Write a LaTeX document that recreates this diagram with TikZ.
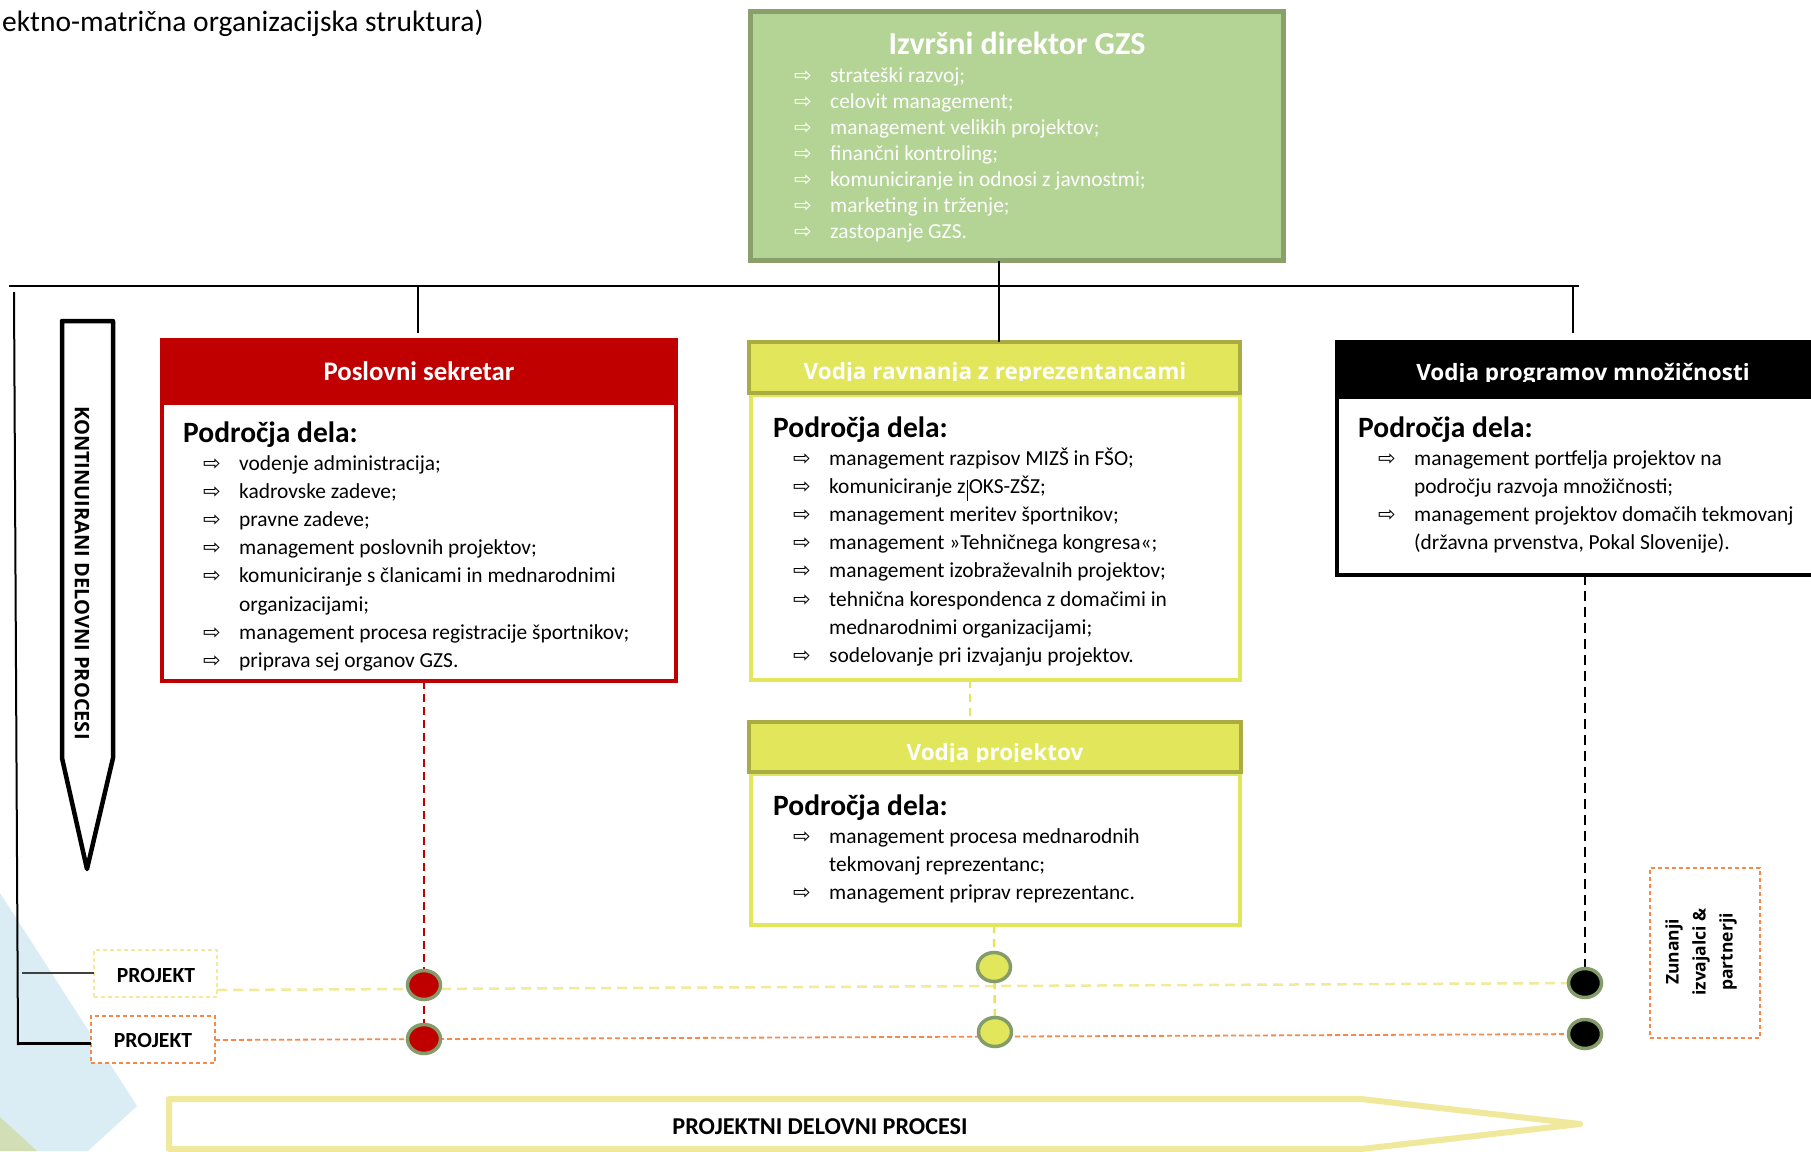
\documentclass[tikz,border=0pt]{standalone}
\usepackage{fontspec}
\setmainfont{Carlito}
\newfontfamily\osans{Open Sans}
\newfontfamily\djv{DejaVu Sans}
\usetikzlibrary{shapes.geometric}
\definecolor{gfill}{HTML}{B3D495}
\definecolor{gborder}{HTML}{89A06B}
\definecolor{rd}{HTML}{C00000}
\definecolor{yl}{HTML}{E2E65A}
\definecolor{ylborder}{HTML}{A9AB43}
\definecolor{olivec}{HTML}{849C6A}
\definecolor{lyel}{HTML}{F2EA98}
\definecolor{khaki}{HTML}{F0E89A}
\definecolor{orng}{HTML}{F5894A}
\definecolor{bgblue}{HTML}{DAEDF4}
\definecolor{bggreen}{HTML}{D2DEB5}
\newcommand\arr{\makebox[36pt][l]{\djv\fontsize{21}{21}\selectfont ⇨}}
\newcommand\itm[1]{\hbox{\arr #1}}
\newcommand\cnt[1]{\hbox{\hspace*{36pt}#1}}
\newcommand\boxnode[6]{\node[#2, inner sep=0, outer sep=0, minimum width={#5-#3}, minimum height={#6-#4}] (#1) at ({(#3+#5)/2},{(#4+#6)/2}) {};}
\tikzset{
  gbox/.style={draw=gborder, line width=5, fill=gfill},
  rhead/.style={fill=rd, draw=rd, line width=1},
  rbody/.style={draw=rd, line width=4, fill=white},
  yhead/.style={fill=yl, draw=ylborder, line width=4},
  ybody/.style={draw=yl, line width=4, fill=white},
  bhead/.style={fill=black, draw=black, line width=1},
  bbody/.style={draw=black, line width=4, fill=white},
  pjbox/.style={dashed, dash pattern=on 4pt off 3pt, line width=1.5, fill=white},
  conn/.style={draw=black, line width=2},
  lst/.style={anchor=base west, inner sep=0, font=\fontsize{21.4}{28.2}\selectfont},
  pod/.style={anchor=base west, inner sep=0, font=\bfseries\fontsize{29.5}{29.5}\selectfont},
  hdtxt/.style={anchor=base, inner sep=0, text=white, font=\osans\bfseries\fontsize{22.5}{22.5}\selectfont},
  dot/.style={ellipse, inner sep=0, minimum width=33, minimum height=29, draw=olivec, line width=3.5},
  pjtxt/.style={anchor=base, inner sep=0, font=\bfseries\fontsize{21.6}{21.6}\selectfont},
}
\begin{document}
\begin{tikzpicture}[x=1pt,y=-1pt]
\useasboundingbox (0,0) rectangle (1811,1151);
\fill[white] (0,0) rectangle (1811,1151);
% background shapes
\fill[bgblue] (0,893) -- (137,1106) -- (88,1151) -- (0,1151) -- cycle;
\fill[bggreen] (0,1117) -- (37,1151) -- (0,1151) -- cycle;
% title fragment
\node[anchor=base west, inner sep=0, font=\fontsize{29.5}{29.5}\selectfont] (ttl) at (2,31) {ektno-matrična organizacijska struktura)};
% boxes
\boxnode{dir}{gbox}{750.5}{11.5}{1283.5}{260.5}
\boxnode{ps_head}{rhead}{160.5}{338.5}{677.5}{403}
\boxnode{ps_body}{rbody}{162}{403}{676}{681}
\boxnode{vr_body}{ybody}{751}{395}{1240}{680}
\boxnode{vr_head}{yhead}{749}{342}{1240}{393}
\boxnode{vj_body}{ybody}{751}{774}{1240}{925}
\boxnode{vj_head}{yhead}{749}{722}{1241}{772}
\boxnode{vp_head}{bhead}{1335.5}{340.5}{1830}{397}
\boxnode{vp_body}{bbody}{1337}{397}{1830}{575}
% helper coordinates
\coordinate (hl_l) at (9,286);
\coordinate (hl_r) at (1579,286);
\coordinate (cx999) at (999,0);
\coordinate (cx970) at (970,0);
\coordinate (ps_top) at (418,333);
\coordinate (vp_top) at (1573,333);
\coordinate (lv_t) at (14,292);
\coordinate (lv_b) at (18,1045);
\coordinate (br1) at (22,973);
\coordinate (br2) at (18,1043);
\coordinate (yl_s) at (217,990);
\coordinate (or_s) at (215,1040);
% connectors (org chart)
\draw[conn] (hl_l) -- (hl_r);
\draw[conn] (dir.south -| cx999) -- (vr_head.north -| cx999);
\draw[conn] (hl_l -| ps_top) -- (ps_top);
\draw[conn] (hl_r -| vp_top) -- (vp_top);
\draw[conn] (lv_t) -- (lv_b);
% PROJEKT boxes
\boxnode{pj1}{pjbox, draw=lyel}{94}{950}{217}{997}
\boxnode{pj2}{pjbox, draw=orng}{91}{1016}{215}{1063}
\node[pjtxt] (pj1t) at (156,982) {PROJEKT};
\node[pjtxt] (pj2t) at (153,1047) {PROJEKT};
\draw[draw=black!75, line width=1.5] (br1) -- (br1 -| pj1.west);
\draw[draw=black, line width=3] (br2) -- (br2 -| pj2.west);
% circle positions
\coordinate (cr1) at (424,985);
\coordinate (cr2) at (424,1039);
\coordinate (cy1) at (994,967);
\coordinate (cy2) at (995,1032);
\coordinate (cb1) at (1585,983);
\coordinate (cb2) at (1585,1034);
% dashed lines
\draw[draw=lyel, line width=2.5, dash pattern=on 10pt off 6pt] (yl_s) -- (cb1);
\draw[draw=orng, line width=1.8, dash pattern=on 5pt off 3pt] (or_s) -- (cb2);
\draw[draw=rd, line width=2, dash pattern=on 8pt off 5pt] (ps_body.south -| cr1) -- (cr2);
\draw[draw=yl, line width=2.5, dash pattern=on 8pt off 6pt] (vj_body.south -| cy1) -- (cy2);
\draw[draw=yl, line width=2.5, dash pattern=on 8pt off 6pt] (vr_body.south -| cx970) -- (vj_head.north -| cx970);
\draw[draw=black, line width=2, dash pattern=on 10pt off 6pt] (vp_body.south -| cb1) -- (cb1);
\node[dot, fill=rd] (c_r1) at (cr1) {};
\node[dot, fill=rd] (c_r2) at (cr2) {};
\node[dot, fill=yl] (c_y1) at (cy1) {};
\node[dot, fill=yl] (c_y2) at (cy2) {};
\node[dot, fill=black] (c_b1) at (cb1) {};
\node[dot, fill=black] (c_b2) at (cb2) {};
% Zunanji box
\boxnode{zun}{pjbox, draw=orng}{1650}{868}{1760}{1038}
\node[rotate=90, align=center, inner sep=0, font=\osans\bfseries\fontsize{17.5}{27}\selectfont] (zunt) at (1701,952) {Zunanji\\izvajalci \&\\partnerji};
% left arrow
\draw[line width=4.5, line join=round, fill=white] (62,321) -- (113,321) -- (113,758) -- (87,869) -- (62,758) -- cycle;
\node[rotate=-90, inner sep=0, font=\osans\bfseries\fontsize{20}{20}\selectfont] (kont) at (82,573) {KONTINUIRANI DELOVNI PROCESI};
% bottom arrow
\draw[draw=khaki, line width=6, line join=round, fill=white] (169,1099) -- (1361,1099) -- (1580,1124) -- (1361,1149) -- (169,1149) -- cycle;
\node[anchor=base, inner sep=0, font=\bfseries\fontsize{24.2}{24.2}\selectfont] (proj) at (820,1134) {PROJEKTNI DELOVNI PROCESI};
% Direktor
\node[anchor=base, inner sep=0, text=white, font=\bfseries\fontsize{32}{32}\selectfont] (dir_t) at (1017,54) {Izvršni direktor GZS};
\node[lst, text=white, font=\fontsize{21.4}{26.1}\selectfont] (dir_l) at (794,82) {\vtop{%
\itm{strateški razvoj;}\itm{celovit management;}\itm{management velikih projektov;}%
\itm{finančni kontroling;}\itm{komuniciranje in odnosi z javnostmi;}%
\itm{marketing in trženje;}\itm{zastopanje GZS.}}};
% Poslovni sekretar
\node[anchor=base, inner sep=0, text=white, font=\bfseries\fontsize{26.8}{26.8}\selectfont] (ps_t) at (419,380) {Poslovni sekretar};
\node[pod] (ps_p) at (183,442) {Področja dela:};
\node[lst] (ps_l) at (203,470) {\vtop{%
\itm{vodenje administracija;}\itm{kadrovske zadeve;}\itm{pravne zadeve;}%
\itm{management poslovnih projektov;}\itm{komuniciranje s članicami in mednarodnimi}%
\cnt{organizacijami;}\itm{management procesa registracije športnikov;}%
\itm{priprava sej organov GZS.}}};
% Vodja ravnanja
\begin{scope}
\clip (747,340) rectangle (1242,380);
\node[hdtxt] (vr_t) at (995,379) {Vodja ravnanja z reprezentancami};
\end{scope}
\node[pod] (vr_p) at (773,437) {Področja dela:};
\node[lst] (vr_l) at (793,465) {\vtop{%
\itm{management razpisov MIZŠ in FŠO;}%
\itm{komuniciranje z\hspace{1pt}\rule[-8pt]{1.3pt}{21pt}\hspace{1pt}OKS-ZŠZ;}%
\itm{management meritev športnikov;}\itm{management »Tehničnega kongresa«;}%
\itm{management izobraževalnih projektov;}\itm{tehnična korespondenca z domačimi in}%
\cnt{mednarodnimi organizacijami;}\itm{sodelovanje pri izvajanju projektov.}}};
% Vodja projektov
\begin{scope}
\clip (747,720) rectangle (1243,761);
\node[hdtxt] (vj_t) at (995,760) {Vodja projektov};
\end{scope}
\node[pod] (vj_p) at (773,815) {Področja dela:};
\node[lst] (vj_l) at (793,843) {\vtop{%
\itm{management procesa mednarodnih}\cnt{tekmovanj reprezentanc;}%
\itm{management priprav reprezentanc.}}};
% Vodja programov
\begin{scope}
\clip (1335,340) rectangle (1811,381);
\node[hdtxt] (vp_t) at (1583,380) {Vodja programov množičnosti};
\end{scope}
\node[pod] (vp_p) at (1358,437) {Področja dela:};
\node[lst] (vp_l) at (1378,465) {\vtop{%
\itm{management portfelja projektov na}\cnt{področju razvoja množičnosti;}%
\itm{management projektov domačih tekmovanj}\cnt{(državna prvenstva, Pokal Slovenije).}}};
\end{tikzpicture}
\end{document}
